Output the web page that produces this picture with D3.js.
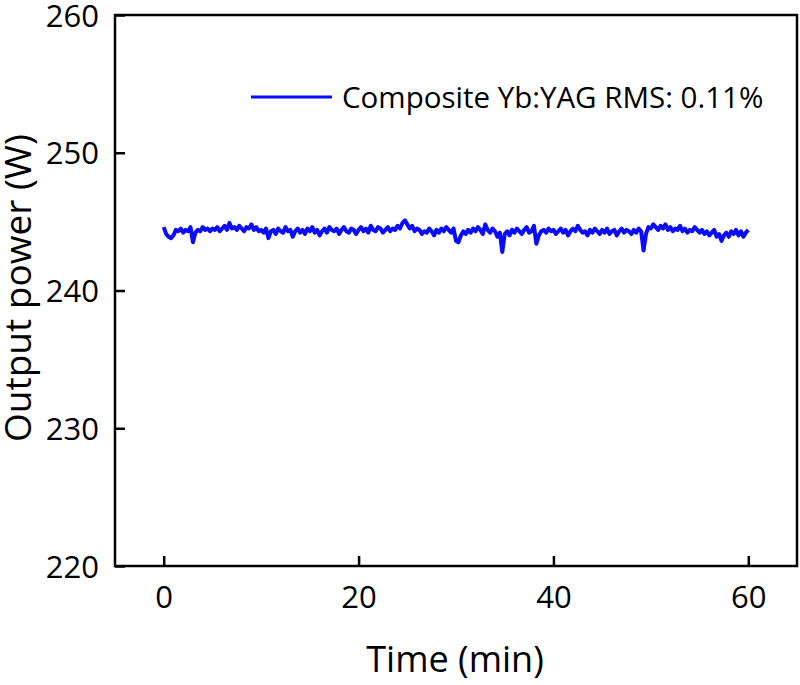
<!DOCTYPE html>
<html>
<head>
<meta charset="utf-8">
<script src="https://cdn.jsdelivr.net/npm/d3@7"></script>
<style>
  body { margin: 0; background: #fff; }
  text { font-family: "Open Sans", sans-serif; fill: #000; }
</style>
</head>
<body>
<div id="chart"></div>
<script>
// output power samples, one every 0.25 min
var power = [
  244.6, 244.1, 243.9, 243.8, 244.0, 244.4, 244.3, 244.5, 244.2, 244.4, 244.3, 244.6, 243.5, 244.2, 244.4, 244.3, 244.6, 244.4, 244.5, 244.3,
  244.5, 244.4, 244.6, 244.3, 244.5, 244.7, 244.4, 244.9, 244.5, 244.6, 244.4, 244.7, 244.5, 244.3, 244.6, 244.5, 244.8, 244.4, 244.6, 244.3,
  244.4, 244.2, 244.5, 243.8, 244.3, 244.4, 244.1, 244.5, 244.3, 244.2, 244.6, 244.3, 244.4, 243.9, 244.3, 244.5, 244.2, 244.4, 244.1, 244.5,
  244.3, 244.6, 244.2, 244.4, 244.0, 244.3, 244.5, 244.2, 244.6, 244.4, 244.3, 244.5, 244.1, 244.4, 244.6, 244.3, 244.2, 244.5, 244.4, 244.1,
  244.4, 244.6, 244.3, 244.5, 244.2, 244.7, 244.4, 244.3, 244.6, 244.5, 244.2, 244.4, 244.6, 244.3, 244.5, 244.4, 244.7, 244.5, 244.9, 245.1,
  244.8, 244.5, 244.7, 244.3, 244.5, 244.4, 244.1, 244.3, 244.2, 244.5, 244.3, 244.0, 244.4, 244.2, 244.5, 244.3, 244.6, 244.4, 244.2, 244.5,
  243.6, 243.5, 244.0, 244.3, 244.1, 244.4, 244.2, 244.5, 244.3, 244.6, 244.4, 244.1, 244.8, 244.4, 244.2, 244.5, 244.3, 243.9, 244.2, 242.8,
  244.1, 244.3, 244.0, 244.4, 244.2, 244.5, 244.3, 244.1, 244.4, 244.6, 244.2, 244.3, 244.7, 243.4, 244.0, 244.3, 244.4, 244.2, 244.5, 244.3,
  244.4, 244.1, 244.3, 244.5, 244.2, 244.4, 244.0, 244.3, 244.5, 244.3, 244.7, 244.4, 244.2, 244.3, 244.0, 244.4, 244.2, 244.5, 244.3, 244.1,
  244.4, 244.2, 244.5, 244.1, 244.3, 244.4, 244.0, 244.3, 244.5, 244.2, 244.4, 244.3, 244.1, 244.4, 244.2, 244.5, 244.3, 242.9, 244.1, 244.6,
  244.5, 244.8, 244.6, 244.4, 244.7, 244.5, 244.8, 244.4, 244.6, 244.3, 244.5, 244.4, 244.7, 244.3, 244.5, 244.2, 244.4, 244.3, 244.6, 244.4,
  244.2, 244.4, 244.1, 244.3, 244.0, 244.2, 244.4, 243.9, 244.1, 243.6, 244.0, 244.2, 243.9, 244.3, 244.1, 244.4, 244.0, 244.3, 243.9, 244.2, 244.4
];
var timeStep = 0.25;
var xTicks = [0, 20, 40, 60];
var yTicks = [220, 230, 240, 250, 260];
var legendLabel = "Composite Yb:YAG RMS: 0.11%";

var width = 800, height = 685;
var plot = { left: 115, top: 15, right: 797, bottom: 566 };

var svg = d3.select("#chart").append("svg")
    .attr("width", width).attr("height", height);

var x = d3.scaleLinear().domain([-5, 65]).range([plot.left, plot.right]);
var y = d3.scaleLinear().domain([220, 260]).range([plot.bottom, plot.top]);

var line = d3.line()
    .x(function (d, i) { return x(i * timeStep); })
    .y(function (d) { return y(d); });

svg.append("path")
    .datum(power)
    .attr("d", line)
    .style("fill", "none")
    .style("stroke", "#0a0aff")
    .style("stroke-width", 4)
    .style("stroke-linejoin", "round");

// axes, ticks pointing inward
var xAxis = svg.append("g")
    .attr("transform", "translate(0," + plot.bottom + ")")
    .call(d3.axisBottom(x).tickValues(xTicks).tickSize(-10).tickPadding(20).tickFormat(d3.format("d")));
var yAxis = svg.append("g")
    .attr("transform", "translate(" + plot.left + ",0)")
    .call(d3.axisLeft(y).tickValues(yTicks).tickSize(-10).tickPadding(16).tickFormat(d3.format("d")));

[xAxis, yAxis].forEach(function (g) {
    g.select(".domain").remove();
    g.selectAll(".tick line").style("stroke", "#000").style("stroke-width", 2.5);
    g.selectAll(".tick text")
        .style("font-family", "'Open Sans', sans-serif")
        .style("font-size", "31px")
        .style("fill", "#000");
});
yAxis.selectAll(".tick text").attr("dy", "0.36em");

svg.append("rect")
    .attr("x", plot.left).attr("y", plot.top)
    .attr("width", plot.right - plot.left).attr("height", plot.bottom - plot.top)
    .style("fill", "none").style("stroke", "#000").style("stroke-width", 2.5);

svg.append("text")
    .attr("x", 455)
    .attr("y", 672)
    .attr("text-anchor", "middle")
    .style("font-size", "36px")
    .text("Time (min)");

svg.append("text")
    .attr("transform", "translate(31,288)rotate(-90)")
    .attr("text-anchor", "middle")
    .style("font-size", "37px")
    .text("Output power (W)");

// legend
svg.append("line")
    .attr("x1", 251).attr("x2", 332).attr("y1", 97).attr("y2", 97)
    .style("stroke", "#0a0aff").style("stroke-width", 3);
svg.append("text")
    .attr("x", 342).attr("y", 108)
    .style("font-size", "29.5px")
    .text(legendLabel);
</script>
</body>
</html>
